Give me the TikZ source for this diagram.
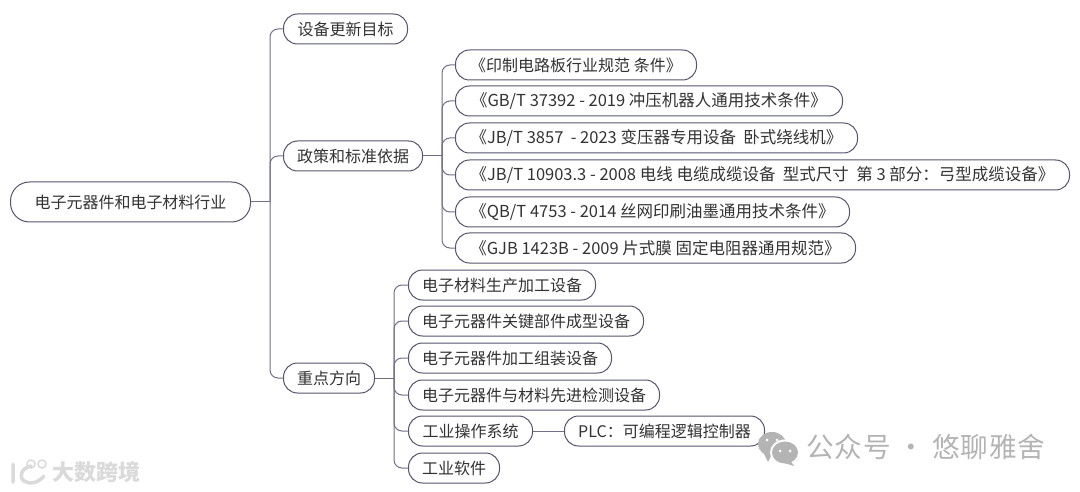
\documentclass[tikz,border=0pt]{standalone}
\usepackage{fontspec}
\setmainfont{Noto Sans CJK SC}
\newfontfamily\wmfont[LetterSpace=3]{Noto Sans CJK SC}
\definecolor{edgec}{HTML}{55556F}
\definecolor{linec}{HTML}{70708A}
\definecolor{textc}{HTML}{333333}
\definecolor{wm}{HTML}{B4B4B4}
\definecolor{wml}{HTML}{DADADA}
\tikzset{
 pill/.style={draw=edgec,line width=1pt,rounded corners=14pt,fill=white,text=textc,anchor=west,minimum height=30pt,inner xsep=0pt,inner ysep=0pt,minimum width=#1,font=\fontsize{16}{18}\selectfont},
 docpill/.style={pill=#1,font=\fontsize{16.5}{18}\selectfont},
 conn/.style={draw=linec,line width=1pt,rounded corners=8pt},
 wmtext/.style={text=wm,inner sep=0pt,font=\wmfont\fontsize{27.6}{30}\selectfont},
 wmsmall/.style={text=wml,inner sep=0pt,font=\fontsize{22}{24}\selectfont\bfseries},
}
\begin{document}
\begin{tikzpicture}[x=1pt,y=-1pt]
\useasboundingbox[fill=white] (0,0) rectangle (1080,492);
% root and first level
\node[pill=240pt,minimum height=40pt,rounded corners=19pt] (root) at (10,202) {电子元器件和电子材料行业};
\node[pill=124pt] (goal) at (283,29) {设备更新目标};
\node[pill=139pt] (policy) at (283,156) {政策和标准依据};
\node[pill=91pt] (focus) at (283,378) {重点方向};
% documents
\node[pill=241pt] (d1) at (455,65) {《印制电路板行业规范 条件》};
\node[docpill=387pt] (d2) at (455,101) {《GB/T 37392 - 2019 冲压机器人通用技术条件》};
\node[docpill=402pt] (d3) at (455,138) {《JB/T 3857\ \ - 2023 变压器专用设备\ \ 卧式绕线机》};
\node[docpill=614pt] (d4) at (455,175) {《JB/T 10903.3 - 2008 电线 电缆成缆设备\ \ 型式尺寸\ \ 第 3 部分：弓型成缆设备》};
\node[docpill=394pt] (d5) at (455,212) {《QB/T 4753 - 2014 丝网印刷油墨通用技术条件》};
\node[docpill=400pt] (d6) at (455,248) {《GJB 1423B - 2009 片式膜 固定电阻器通用规范》};
% focus children
\node[pill=187pt] (f1) at (408,285) {电子材料生产加工设备};
\node[pill=235pt] (f2) at (408,321) {电子元器件关键部件成型设备};
\node[pill=203pt] (f3) at (408,358) {电子元器件加工组装设备};
\node[pill=251pt] (f4) at (408,395) {电子元器件与材料先进检测设备};
\node[pill=124pt] (f5) at (408,431) {工业操作系统};
\node[pill=91pt] (f6) at (408,468) {工业软件};
\node[pill=200pt] (plc) at (564,431) {PLC：可编程逻辑控制器};
% buses
\coordinate (b0) at (270,202);
\coordinate (b1) at (442,156);
\coordinate (b2) at (394,378);
\draw[conn] (root.east) -- (b0);
\foreach \n in {goal,policy,focus} \draw[conn] (\n.west) -| (b0);
\draw[conn] (policy.east) -- (b1);
\foreach \n in {d1,d2,d3,d4,d5,d6} \draw[conn] (\n.west) -| (b1);
\draw[conn] (focus.east) -- (b2);
\foreach \n in {f1,f2,f3,f4,f5,f6} \draw[conn] (\n.west) -| (b2);
\draw[conn] (f5.east) -- (plc.west);
% watermark right
\fill[wm] (772,444) ellipse [x radius=14,y radius=12];
\fill[wm] (763,452) -- (768,462) -- (772,454) -- cycle;
\fill[white] (785,452.5) ellipse [x radius=15,y radius=13];
\fill[wm] (785,452.5) ellipse [x radius=13,y radius=11];
\fill[wm] (790,460) -- (794,466) -- (781,462) -- cycle;
\foreach \p in {(767,440),(777,440),(780,451),(790,451)} \fill[white] \p circle (1.5);
\node[wmtext,anchor=west] (wx) at (806,447) {公众号 · 悠聊雅舍};
% watermark left
\draw[wml,line width=3.5pt,line cap=round] (13,464) -- (13,482) (31,466) .. controls (22,468) and (18,476) .. (24,481) .. controls (30,485) and (38,483) .. (44,476);
\draw[wml,line width=1.5pt] (31,464) circle (4) (42,464) circle (4);
\node[wmsmall,anchor=west] (dash) at (52,472) {大数跨境};
\end{tikzpicture}
\end{document}
